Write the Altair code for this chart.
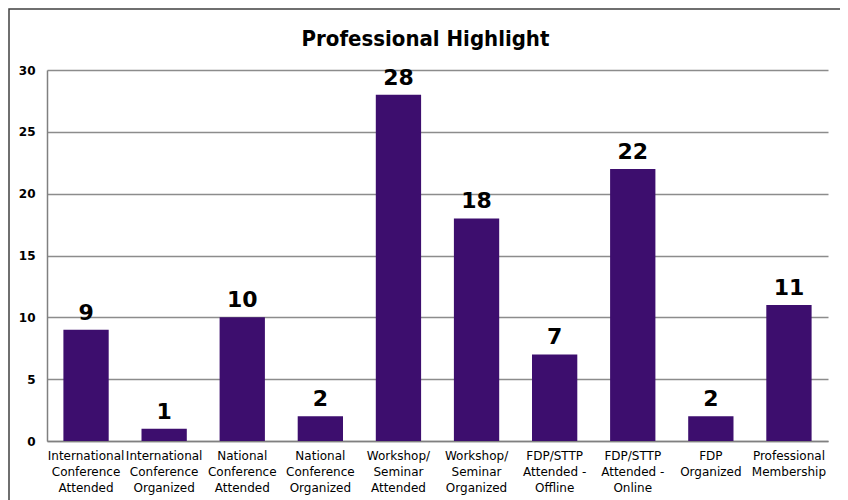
import altair as alt
import pandas as pd

categories = [
    "International|Conference|Attended",
    "International|Conference|Organized",
    "National|Conference|Attended",
    "National|Conference|Organized",
    "Workshop/|Seminar|Attended",
    "Workshop/|Seminar|Organized",
    "FDP/STTP|Attended -|Offline",
    "FDP/STTP|Attended -|Online",
    "FDP|Organized",
    "Professional|Membership",
]
values = [9, 1, 10, 2, 28, 18, 7, 22, 2, 11]

df = pd.DataFrame({"cat": categories, "val": values})

W, H = 781, 371
BAR = "#3D0E6E"

x = alt.X(
    "cat:N",
    sort=categories,
    title=None,
    scale=alt.Scale(paddingInner=0.42, paddingOuter=0.21),
    axis=alt.Axis(
        labelExpr="split(datum.label, '|')",
        labelAngle=0,
        labelFont="DejaVu Sans",
        labelFontSize=12,
        labelColor="#000000",
        labelLineHeight=16,
        labelPadding=9,
        ticks=False,
        domainColor="#808080",
        domainWidth=1.5,
        labelLimit=200,
    ),
)
y = alt.Y(
    "val:Q",
    title=None,
    scale=alt.Scale(domain=[0, 30]),
    axis=alt.Axis(
        values=[0, 5, 10, 15, 20, 25, 30],
        labelFont="DejaVu Sans",
        labelFontSize=12,
        labelFontWeight="bold",
        labelColor="#000000",
        labelPadding=12,
        ticks=False,
        domainColor="#808080",
        domainWidth=1.5,
        gridColor="#8c8c8c",
        gridWidth=1.5,
    ),
)

bars = alt.Chart(df).mark_bar(color=BAR).encode(x=x, y=y)
labels = alt.Chart(df).mark_text(
    baseline="bottom", dy=-5, fontSize=22, fontWeight="bold",
    font="DejaVu Sans", color="#000000"
).encode(x=alt.X("cat:N", sort=categories), y="val:Q", text="val:Q")

frame = alt.Chart(pd.DataFrame({"a": [0]})).mark_rect(
    fill=None, stroke="#404040", strokeWidth=1.5
).encode(
    x=alt.value(-38), x2=alt.value(W + 13),
    y=alt.value(-61), y2=alt.value(H + 80),
)

chart = alt.layer(frame, bars, labels).properties(
    width=W,
    height=H,
    title=alt.TitleParams(
        "Professional Highlight",
        font="Liberation Sans Narrow, DejaVu Sans Condensed, sans-serif",
        fontSize=22,
        fontWeight="bold",
        color="#000000",
        anchor="middle",
        frame="group",
        baseline="bottom",
        dx=-12,
        offset=-65,
    ),
    autosize=alt.AutoSizeParams(type="none"),
    padding={"left": 39, "top": 62, "right": 12, "bottom": 60},
).configure_view(stroke=None).configure_axis(
    grid=False
).configure_axisY(grid=True)

chart.save("out.html", embed_options={"renderer": "svg", "actions": False})
